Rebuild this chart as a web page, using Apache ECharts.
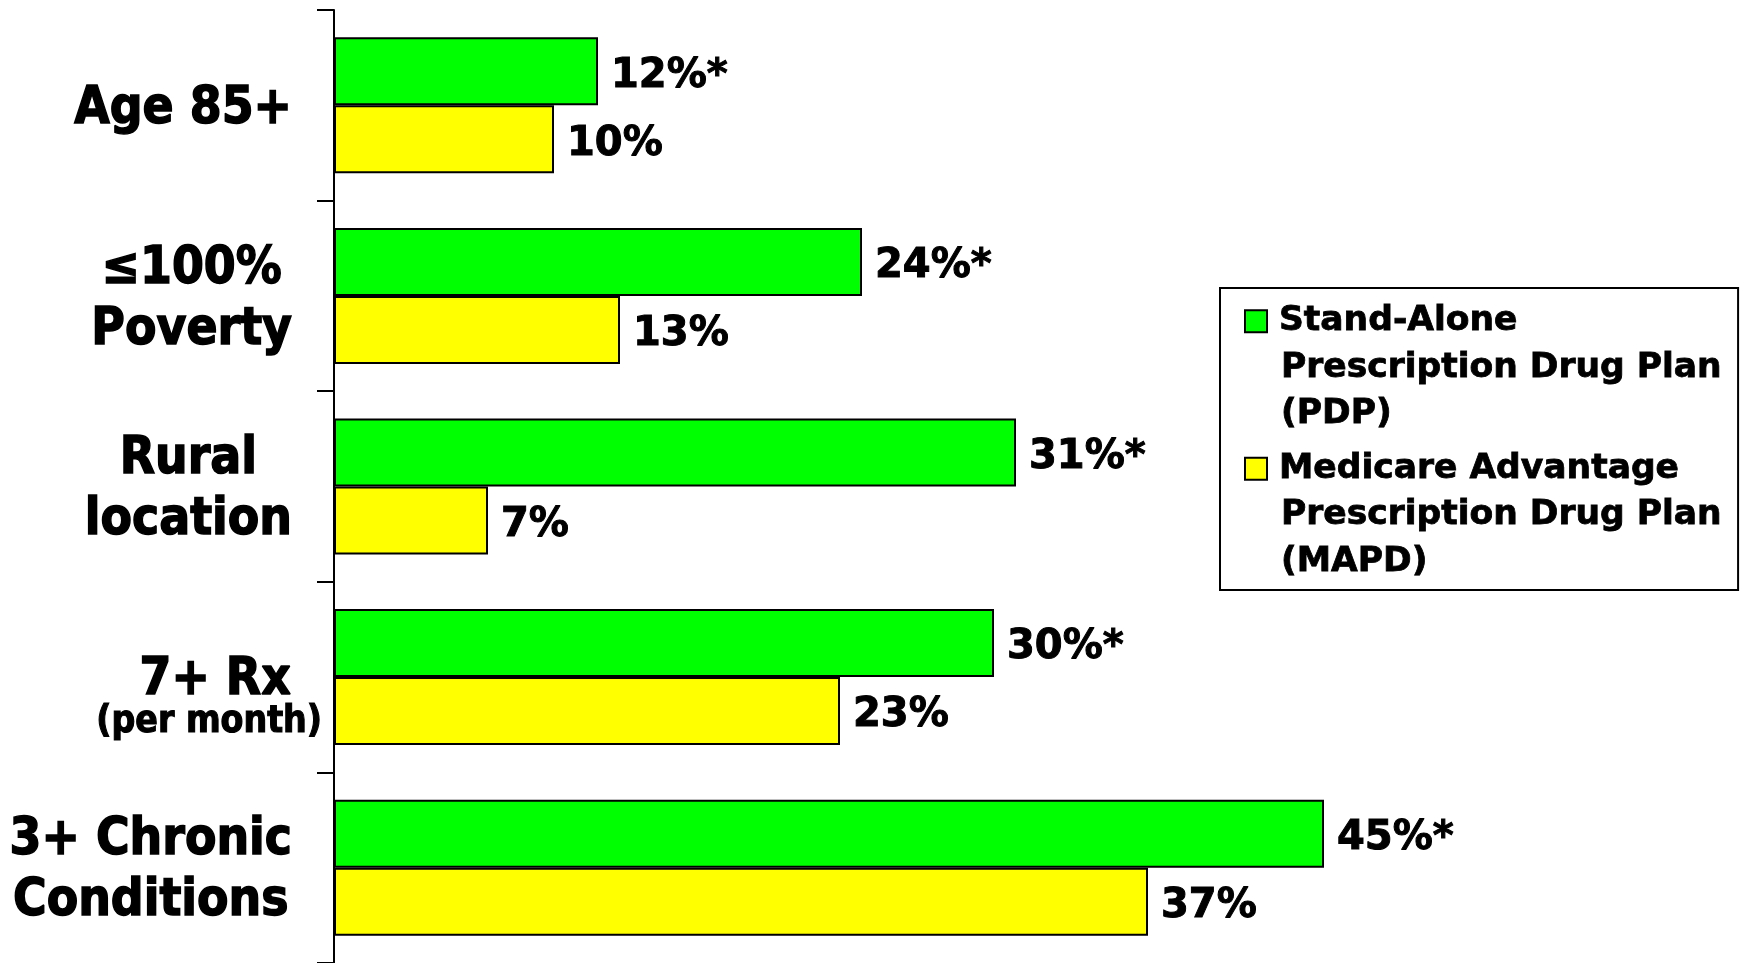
<!DOCTYPE html>
<html>
<head>
<meta charset="utf-8">
<script src="https://cdn.jsdelivr.net/npm/echarts@6/dist/echarts.min.js"></script>
<style>
  html, body { margin: 0; padding: 0; background: #fff; }
  #chart { width: 1745px; height: 963px; }
</style>
</head>
<body>
<div id="chart"></div>
<script>
// Beneficiary characteristics by plan type (share of enrollees, %)
const categories = ['Age 85+', '≤100%\nPoverty', 'Rural\nlocation', '7+ Rx', '3+ Chronic\nConditions'];
const categoryNotes = ['', '', '', '(per month)', ''];
const seriesNames = ['Stand-Alone\nPrescription Drug Plan\n(PDP)', 'Medicare Advantage\nPrescription Drug Plan\n(MAPD)'];
const pdpValues = [12, 24, 31, 30, 45];
const mapdValues = [10, 13, 7, 23, 37];
const significanceMark = '*';

const FONT = 'DejaVu Sans';
const FONT_NARROW = 'DejaVu Sans Condensed';
const GREEN = '#00ff00';
const YELLOW = '#ffff00';

const chart = echarts.init(document.getElementById('chart'));

// Axis labels: lines centred within each block; a note line hangs below its heading
function categoryLabel(value, index) {
  const note = categoryNotes[index];
  if (note) {
    return '{gap| }\n{rx|' + value + '}\n{note|' + note + '}';
  }
  return value.split('\n').map(l => '{c|' + l + '}').join('\n');
}

// Legend entries: coloured square beside the first line, wrapped lines indented
function legendLabel(name) {
  const lines = name.split('\n');
  const box = name === seriesNames[0] ? 'boxG' : 'boxY';
  return lines.map((l, i) => (i === 0 ? '{' + box + '|}{gapA|}' : '{sp|}') + '{t|' + l + '}').join('\n');
}

const heavy = (w) => ({ textBorderColor: '#000', textBorderWidth: w });
const barStyle = (color) => ({ color: color, borderColor: '#000', borderWidth: 2 });
const valueLabel = (suffix) => Object.assign({
  show: true,
  position: 'right',
  distance: 13,
  offset: [0, 5],
  color: '#000',
  fontFamily: FONT,
  fontWeight: 'bold',
  fontSize: 40,
  formatter: p => p.value + '%' + suffix
}, heavy(1));

const catStyle = Object.assign({ fontFamily: FONT_NARROW, fontWeight: 'bold', color: '#000' }, heavy(1.4));

chart.setOption({
  animation: false,
  backgroundColor: '#fff',
  grid: { left: 334, right: 91, top: 10, bottom: 0, containLabel: false },
  xAxis: { type: 'value', min: 0, max: 60, show: false },
  yAxis: {
    type: 'category',
    inverse: true,
    data: categories,
    axisLine: { show: true, lineStyle: { color: '#000', width: 2 } },
    axisTick: { show: true, length: 17, lineStyle: { color: '#000', width: 2 } },
    splitLine: { show: false },
    axisLabel: {
      margin: 12,
      color: '#000',
      padding: [8, 0, 0, 0],
      formatter: categoryLabel,
      rich: {
        c: Object.assign({ fontSize: 51, lineHeight: 61, align: 'center', padding: [0, 30, 0, 0] }, catStyle),
        gap: { fontSize: 10, lineHeight: 39 },
        rx: Object.assign({ fontSize: 51, lineHeight: 44, align: 'center', padding: [0, 0, 0, 12] }, catStyle),
        note: Object.assign({ fontSize: 37, lineHeight: 39, align: 'center' }, catStyle, heavy(1.1))
      }
    }
  },
  legend: {
    orient: 'vertical',
    left: 1220,
    top: 288,
    padding: [10, 16, 5, 21],
    borderColor: '#000',
    borderWidth: 2,
    backgroundColor: '#fff',
    itemGap: 8,
    itemWidth: 0,
    itemHeight: 0,
    itemStyle: { opacity: 0, borderWidth: 0 },
    selectedMode: false,
    data: seriesNames,
    formatter: legendLabel,
    textStyle: {
      color: '#000',
      fontFamily: FONT,
      fontWeight: 'bold',
      fontSize: 34.5,
      lineHeight: 46.5,
      rich: {
        boxG: { width: 20, height: 20, backgroundColor: GREEN, borderColor: '#000', borderWidth: 2 },
        boxY: { width: 20, height: 20, backgroundColor: YELLOW, borderColor: '#000', borderWidth: 2 },
        gapA: { width: 13 },
        sp: { width: 35 },
        t: Object.assign({ fontFamily: FONT, fontWeight: 'bold', fontSize: 34.5, lineHeight: 46.5, color: '#000' }, heavy(0.8))
      }
    }
  },
  series: [
    {
      name: seriesNames[0],
      type: 'bar',
      data: pdpValues,
      barWidth: 68,
      barGap: '0%',
      itemStyle: barStyle(GREEN),
      label: valueLabel(significanceMark)
    },
    {
      name: seriesNames[1],
      type: 'bar',
      data: mapdValues,
      barWidth: 68,
      barGap: '0%',
      itemStyle: barStyle(YELLOW),
      label: valueLabel('')
    }
  ]
});
</script>
</body>
</html>
